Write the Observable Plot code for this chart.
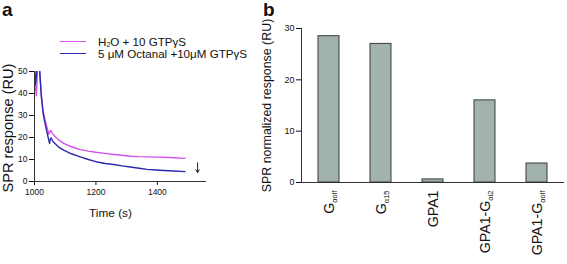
<!DOCTYPE html>
<html>
<head>
<meta charset="utf-8">
<script src="https://cdn.jsdelivr.net/npm/d3@7"></script>
<script src="https://cdn.jsdelivr.net/npm/@observablehq/plot@0.6"></script>
<style>
  html, body { margin: 0; padding: 0; background: #fff; }
  #chart { position: relative; width: 567px; height: 264px; font-family: "Liberation Sans", Arial, sans-serif; color: #111; overflow: hidden; }
  .panel { position: absolute; top: 0; }
  .tag { position: absolute; font-weight: bold; font-size: 19px; line-height: 19px; }
  .leg { position: absolute; left: 60px; height: 11px; line-height: 11px; font-size: 11.6px; display: flex; align-items: center; white-space: nowrap; }
  .sw { width: 26px; height: 0; border-top: 1.5px solid; margin-right: 12px; }
  sub { font-size: 7px; vertical-align: -1px; line-height: 0; }
</style>
</head>
<body>
<div id="chart"></div>
<script>
// ---- Panel a data ----
const timePink  = [1001,1003,1006,1009,1011,1014,1017,1022,1028,1035,1042,1047,1050,1053,1060,1070,1080,1095,1120,1149,1175,1200,1230,1258,1285,1312,1340,1367,1395,1421,1455,1490];
const valuePink = [48,  43,  39,  48,  60,  60,  50,  40,  32,  27.5,24, 21.5,22.5,23.2,21.5,20, 18.8,17.3,15.8,14.5,13.8,13.3,12.8,12.3,11.9,11.5,11.3,11.2,11.1,11.0,10.8,10.5];
const timeBlue  = [1001,1003,1005,1008,1010,1014,1017,1022,1028,1035,1042,1049,1051,1054,1060,1070,1080,1095,1120,1149,1175,1200,1230,1258,1285,1312,1340,1367,1395,1421,1455,1490];
const valueBlue = [50,  44,  46,  52,  60,  60,  50,  39,  31,  26, 21.5,17.3,19, 19.8,18.2,16.8,15.5,14.3,12.6,11.2,10.0,9.0, 8.2, 7.7, 7.1, 6.6, 6.0, 5.5, 5.2, 5.0, 4.8, 4.5];
const seriesNames = ["H2O + 10 GTPγS", "5 μM Octanal +10μM GTPγS"];
const arrowTime = [1531];
const arrowFrom = [8.5];
const arrowTo = [4];
const xTicksA = [1000, 1200, 1400];
const yTicksA = [0, 10, 20, 30, 40, 50];

// ---- Panel b data ----
const categories = ["Gαolf", "Gα15", "GPA1", "GPA1-Gαi2", "GPA1-Gαolf"];
const labelMain  = ["G", "G", "GPA1", "GPA1-G", "GPA1-G"];
const labelSub   = ["αolf", "α15", "", "αi2", "αolf"];
const responses  = [28.5, 27.0, 0.6, 16.0, 3.7];
const yTicksB = [0, 10, 20, 30];

const pink = "#d553ec";
const blue = "#2a2aae";
const font = "'Liberation Sans', Arial, sans-serif";

const chart = document.getElementById("chart");

// Panel a
const pinkData = timePink.map((t, i) => ({t, v: valuePink[i]}));
const blueData = timeBlue.map((t, i) => ({t, v: valueBlue[i]}));
const arrowData = arrowTime.map((t, i) => ({t, a: arrowFrom[i], b: arrowTo[i]}));

const plotA = Plot.plot({
  width: 262, height: 264,
  marginLeft: 34, marginRight: 56, marginTop: 71, marginBottom: 83,
  style: {fontFamily: font, fontSize: "8.5px", color: "#111", background: "transparent", overflow: "visible"},
  x: {domain: [1000, 1560], label: null},
  y: {domain: [0, 50], label: null},
  marks: [
    Plot.axisX({ticks: xTicksA, tickSize: 4, tickPadding: 3, label: null, tickFormat: d => String(d)}),
    Plot.axisY({ticks: yTicksA, tickSize: 5, tickPadding: 2, label: null}),
    Plot.line(pinkData, {x: "t", y: "v", stroke: pink, strokeWidth: 1.4, clip: true}),
    Plot.line(blueData, {x: "t", y: "v", stroke: blue, strokeWidth: 1.4, clip: true}),
    Plot.ruleX([1000], {stroke: "#333"}),
    Plot.ruleY([0], {stroke: "#333"}),
    Plot.arrow(arrowData, {x1: "t", x2: "t", y1: "a", y2: "b", stroke: "#222", strokeWidth: 1, headLength: 5}),
    Plot.text(["Time (s)"], {text: d => d, frameAnchor: "bottom", textAnchor: "middle", dx: -10, dy: 35, fontSize: 11.8}),
    Plot.text(["SPR response (RU)"], {text: d => d, frameAnchor: "left", textAnchor: "middle", rotate: -90, dx: -26, dy: 1.5, fontSize: 14.6})
  ]
});
plotA.classList.add("panel");
plotA.style.left = "0px";
chart.appendChild(plotA);

// Panel b
const barData = categories.map((c, i) => ({c, v: responses[i]}));
const plotB = Plot.plot({
  width: 305, height: 264,
  marginLeft: 39, marginRight: 3, marginTop: 28, marginBottom: 82,
  style: {fontFamily: font, fontSize: "9px", color: "#111", background: "transparent", overflow: "visible"},
  x: {domain: categories, paddingInner: 0.6, paddingOuter: 0.31, label: null},
  y: {domain: [0, 30], label: null},
  marks: [
    Plot.barY(barData, {x: "c", y: "v", fill: "#a2b2ae", stroke: "#3a3a3a", strokeWidth: 1}),
    Plot.axisY({ticks: yTicksB, tickSize: 5, tickPadding: 2, label: null}),
    Plot.axisX({tickRotate: -90, tickSize: 0, tickPadding: 8, fontSize: 14.2, label: null}),
    Plot.ruleY([0], {stroke: "#333"}),
    Plot.frame({anchor: "left", stroke: "#333"}),
    Plot.text(["SPR normalized response (RU)"], {text: d => d, frameAnchor: "left", textAnchor: "middle", rotate: -90, dx: -34, dy: 0, fontSize: 12.4})
  ]
});
plotB.classList.add("panel");
plotB.style.left = "262px";
chart.appendChild(plotB);

// subscripts on the category labels
d3.select(plotB).selectAll('g[aria-label="x-axis tick label"] text').each(function() {
  const t = d3.select(this);
  const i = categories.indexOf(this.textContent);
  if (i < 0) return;
  t.text(null);
  t.append("tspan").text(labelMain[i]);
  if (labelSub[i]) t.append("tspan").attr("font-size", 7.5).attr("dy", "0.45em").text(labelSub[i]);
});

// Panel tags
const tagA = document.createElement("div"); tagA.className = "tag"; tagA.textContent = "a";
tagA.style.left = "2px"; tagA.style.top = "0px"; chart.appendChild(tagA);
const tagB = document.createElement("div"); tagB.className = "tag"; tagB.textContent = "b";
tagB.style.left = "263px"; tagB.style.top = "0px"; chart.appendChild(tagB);

// Legend
const legColors = [pink, blue];
const legTops = [35.5, 48];
seriesNames.forEach((name, i) => {
  const row = document.createElement("div");
  row.className = "leg";
  row.style.top = legTops[i] + "px";
  const sw = document.createElement("span");
  sw.className = "sw"; sw.style.borderColor = legColors[i];
  row.appendChild(sw);
  const lab = document.createElement("span");
  lab.innerHTML = name.replace("H2O", "H<sub>2</sub>O");
  row.appendChild(lab);
  chart.appendChild(row);
});
</script>
</body>
</html>
